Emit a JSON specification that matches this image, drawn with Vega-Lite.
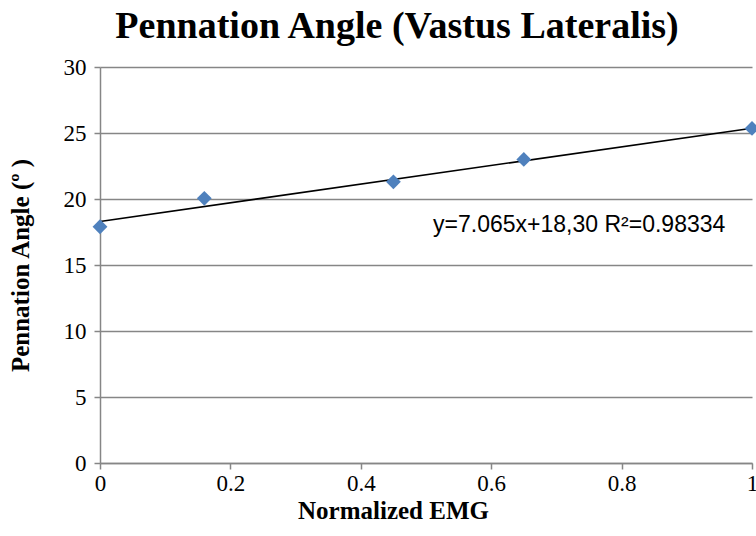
{
  "$schema": "https://vega.github.io/schema/vega-lite/v6.json",
  "autosize": {"type": "none"},
  "width": 652,
  "height": 396,
  "padding": {"left": 100, "top": 67, "right": 4, "bottom": 73},
  "background": "white",
  "config": {"view": {"stroke": null}},
  "title": {
    "text": "Pennation Angle (Vastus Lateralis)",
    "font": "Liberation Serif",
    "fontSize": 38,
    "fontWeight": "bold",
    "color": "black",
    "anchor": "middle",
    "dx": -29,
    "offset": 10
  },
  "datasets": {
    "pts": [
      {"emg": 0, "angle": 17.9},
      {"emg": 0.16, "angle": 20.05},
      {"emg": 0.45, "angle": 21.3},
      {"emg": 0.65, "angle": 23.0},
      {"emg": 1.0, "angle": 25.35}
    ],
    "fit": [
      {"emg": 0, "angle": 18.3},
      {"emg": 1, "angle": 25.365}
    ],
    "label": [
      {"emg": 0.735, "angle": 18.0, "txt": "y=7.065x+18,30 R²=0.98334"}
    ]
  },
  "encoding": {
    "x": {
      "field": "emg",
      "type": "quantitative",
      "scale": {"domain": [0, 1], "nice": false, "zero": true},
      "axis": {
        "title": "Normalized EMG",
        "values": [0, 0.2, 0.4, 0.6, 0.8, 1],
        "format": "~g",
        "grid": false,
        "domainColor": "#868686",
        "domainWidth": 1.5,
        "tickColor": "#868686",
        "tickWidth": 1.5,
        "tickSize": 6,
        "labelFont": "Liberation Serif",
        "labelFontSize": 23,
        "labelColor": "black",
        "labelPadding": 3,
        "labelFlush": false,
        "titleFont": "Liberation Serif",
        "titleFontSize": 25,
        "titleFontWeight": "bold",
        "titleColor": "black",
        "titleX": 293,
        "titleY": 47,
        "titleAlign": "center",
        "titleBaseline": "middle"
      }
    },
    "y": {
      "field": "angle",
      "type": "quantitative",
      "scale": {"domain": [0, 30], "nice": false},
      "axis": {
        "title": "Pennation Angle (º )",
        "values": [0, 5, 10, 15, 20, 25, 30],
        "grid": true,
        "gridColor": "#868686",
        "gridWidth": 1.5,
        "domainColor": "#868686",
        "domainWidth": 1.5,
        "tickColor": "#868686",
        "tickWidth": 1.5,
        "tickSize": 6,
        "labelFont": "Liberation Serif",
        "labelFontSize": 23,
        "labelColor": "black",
        "labelPadding": 8,
        "labelFlush": false,
        "titleFont": "Liberation Serif",
        "titleFontSize": 25,
        "titleFontWeight": "bold",
        "titleColor": "black",
        "titleX": -80,
        "titleY": 198,
        "titleAngle": -90,
        "titleAlign": "center",
        "titleBaseline": "middle"
      }
    }
  },
  "layer": [
    {
      "data": {"name": "fit"},
      "mark": {"type": "line", "color": "black", "strokeWidth": 1.6, "clip": false}
    },
    {
      "data": {"name": "pts"},
      "mark": {"type": "point", "shape": "diamond", "filled": true, "size": 220, "color": "#4F81BD", "opacity": 1, "clip": false}
    },
    {
      "data": {"name": "label"},
      "mark": {"type": "text", "font": "Liberation Sans", "fontSize": 23, "color": "black", "align": "center", "baseline": "middle"},
      "encoding": {"text": {"field": "txt"}}
    }
  ]
}
